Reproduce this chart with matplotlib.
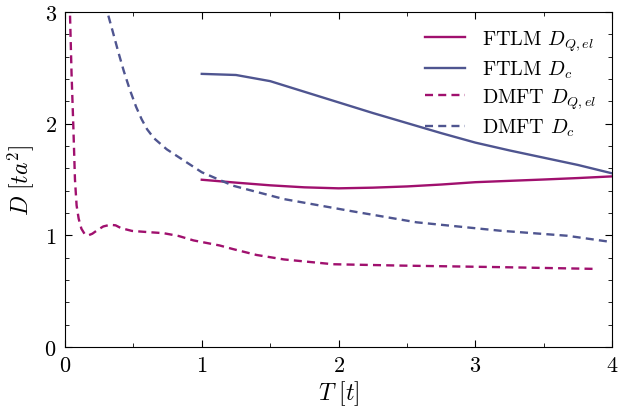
import matplotlib
matplotlib.use("Agg")
import matplotlib.pyplot as plt
from matplotlib.ticker import MultipleLocator

plt.rcParams["font.family"] = "serif"
plt.rcParams["font.serif"] = ["cmr10"]
plt.rcParams["mathtext.fontset"] = "cm"
plt.rcParams["axes.formatter.use_mathtext"] = True

# FTLM curves
t_ftlm = [1.0, 1.25, 1.5, 1.75, 2.0, 2.25, 2.5, 2.75, 3.0, 3.25, 3.5, 3.75, 4.0]
dc_ftlm = [2.445, 2.435, 2.38, 2.285, 2.19, 2.095, 2.005, 1.915, 1.83, 1.76, 1.695, 1.63, 1.555]
dq_ftlm = [1.498, 1.472, 1.448, 1.43, 1.421, 1.427, 1.438, 1.455, 1.476, 1.488, 1.5, 1.513, 1.528]

# DMFT curves
t_dmft_c = [0.317, 0.35, 0.39, 0.43, 0.475, 0.52, 0.56, 0.6, 0.65, 0.744, 0.89, 1.0, 1.23, 1.6, 2.08,
            2.57, 3.18, 3.67, 3.97, 4.0]
dc_dmft = [2.966, 2.82, 2.64, 2.47, 2.30, 2.15, 2.04, 1.95, 1.87, 1.77, 1.653, 1.565, 1.444, 1.325, 1.22,
           1.117, 1.042, 0.997, 0.945, 0.943]

t_dmft_q = [0.037, 0.048, 0.061, 0.073, 0.085, 0.10, 0.12, 0.145, 0.17, 0.2, 0.24, 0.28, 0.33, 0.37,
            0.41, 0.49, 0.6, 0.72, 0.83, 0.94, 1.13, 1.23, 1.4, 1.6, 1.96, 2.45, 3.18, 3.89]
dq_dmft = [2.966, 2.45, 1.98, 1.50, 1.268, 1.15, 1.06, 1.01, 1.0, 1.015, 1.05, 1.08, 1.095, 1.09,
           1.065, 1.04, 1.03, 1.02, 0.995, 0.955, 0.91, 0.877, 0.825, 0.785, 0.742, 0.73, 0.716, 0.70]

c_q = "#a0106e"
c_c = "#4f5590"

fig = plt.figure(figsize=(6.37, 4.14), dpi=100)
ax = fig.add_axes([0.102, 0.159, 0.859, 0.81])

ax.plot(t_ftlm, dq_ftlm, color=c_q, lw=1.7, label=r"FTLM $D_{Q,el}$")
ax.plot(t_ftlm, dc_ftlm, color=c_c, lw=1.7, label=r"FTLM $D_c$")
ax.plot(t_dmft_q, dq_dmft, color=c_q, lw=1.7, ls=(0, (3.4, 2.2)), label=r"DMFT $D_{Q,el}$")
ax.plot(t_dmft_c, dc_dmft, color=c_c, lw=1.7, ls=(0, (3.4, 2.2)), label=r"DMFT $D_c$")

ax.set_xlim(0, 4)
ax.set_ylim(0, 3)
ax.xaxis.set_major_locator(MultipleLocator(1))
ax.xaxis.set_minor_locator(MultipleLocator(0.5))
ax.yaxis.set_major_locator(MultipleLocator(1))
ax.yaxis.set_minor_locator(MultipleLocator(0.2))
ax.tick_params(which="both", direction="in", top=True, right=True, labelsize=16)
ax.tick_params(which="major", length=5, pad=6)
ax.tick_params(which="minor", length=3)

ax.set_xlabel(r"$T\ [t]$", fontsize=17, labelpad=2)
ax.set_ylabel(r"$D\ [ta^2]$", fontsize=17, labelpad=6)

ax.legend(loc="upper right", frameon=False, fontsize=14.5, handlelength=2.0,
          labelspacing=0.3, borderaxespad=0.4)

fig.savefig("out.png", dpi=100)
